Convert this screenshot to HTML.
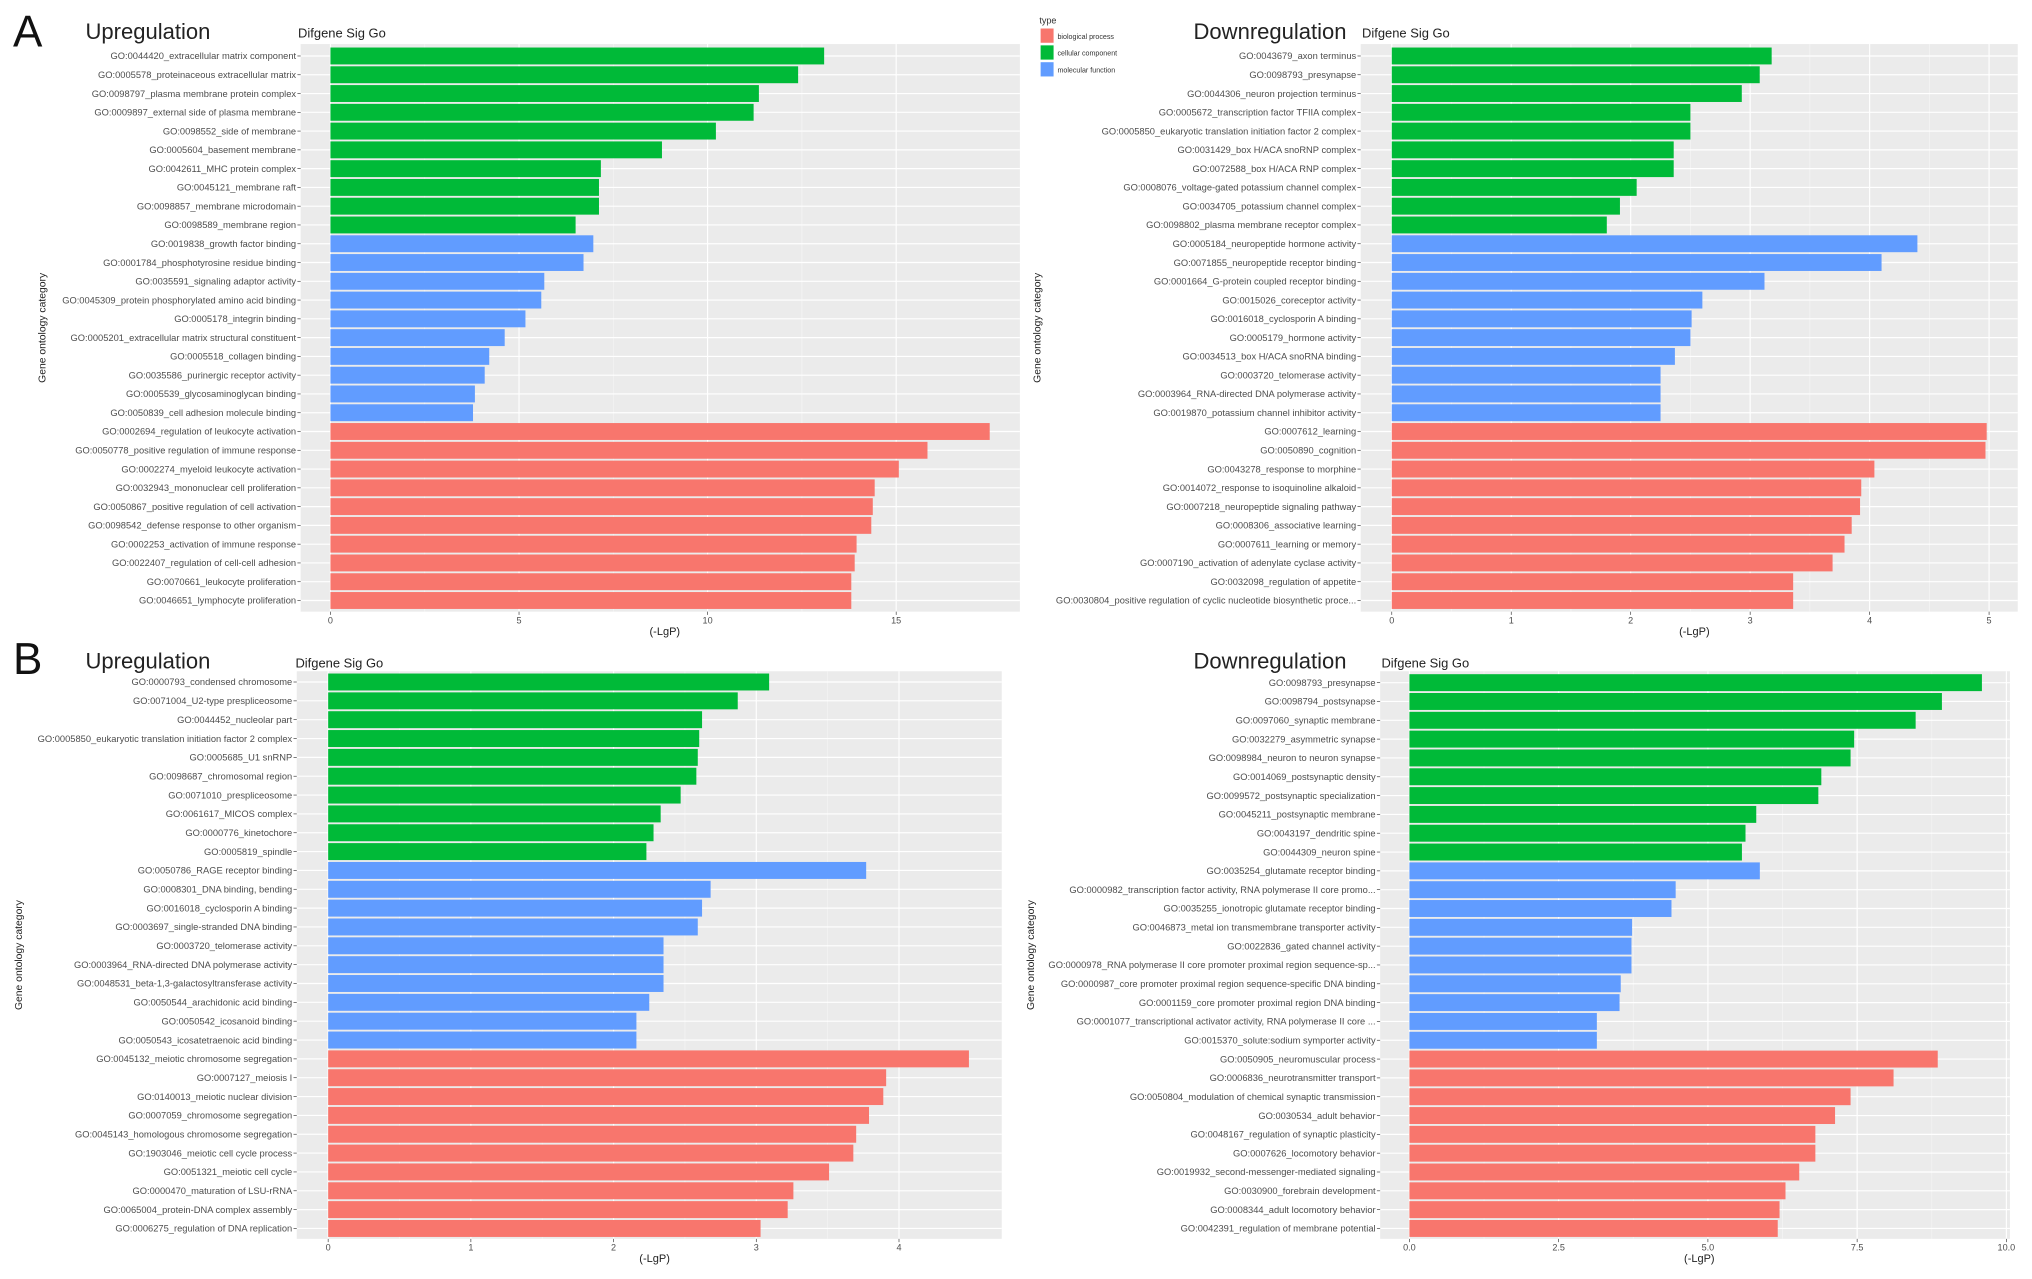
<!DOCTYPE html>
<html><head><meta charset="utf-8"><style>
html,body{margin:0;padding:0;background:#fff}
svg{display:block}
text{font-family:"Liberation Sans",sans-serif}
</style></head><body>
<svg id="fig" width="2032" height="1279" viewBox="0 0 1568 987" preserveAspectRatio="none" xmlns="http://www.w3.org/2000/svg">
<text x="10" y="36" font-size="34" fill="#111">A</text>
<text x="10" y="520" font-size="34" fill="#111">B</text>
<g>
<text x="802" y="18" font-size="7" fill="#333">type</text>
<rect x="803" y="22" width="10" height="11" fill="#F8766D"/>
<text x="816" y="30" font-size="5.5" fill="#333">biological process</text>
<rect x="803" y="35" width="10" height="11" fill="#00BA38"/>
<text x="816" y="43" font-size="5.5" fill="#333">cellular component</text>
<rect x="803" y="48" width="10" height="11" fill="#619CFF"/>
<text x="816" y="56" font-size="5.5" fill="#333">molecular function</text>
</g>
</svg>
<script>
const types = ["cc","cc","cc","cc","cc","cc","cc","cc","cc","cc","mf","mf","mf","mf","mf","mf","mf","mf","mf","mf","bp","bp","bp","bp","bp","bp","bp","bp","bp","bp"];

const aUpLabels = ["GO:0044420_extracellular matrix component","GO:0005578_proteinaceous extracellular matrix","GO:0098797_plasma membrane protein complex","GO:0009897_external side of plasma membrane","GO:0098552_side of membrane","GO:0005604_basement membrane","GO:0042611_MHC protein complex","GO:0045121_membrane raft","GO:0098857_membrane microdomain","GO:0098589_membrane region","GO:0019838_growth factor binding","GO:0001784_phosphotyrosine residue binding","GO:0035591_signaling adaptor activity","GO:0045309_protein phosphorylated amino acid binding","GO:0005178_integrin binding","GO:0005201_extracellular matrix structural constituent","GO:0005518_collagen binding","GO:0035586_purinergic receptor activity","GO:0005539_glycosaminoglycan binding","GO:0050839_cell adhesion molecule binding","GO:0002694_regulation of leukocyte activation","GO:0050778_positive regulation of immune response","GO:0002274_myeloid leukocyte activation","GO:0032943_mononuclear cell proliferation","GO:0050867_positive regulation of cell activation","GO:0098542_defense response to other organism","GO:0002253_activation of immune response","GO:0022407_regulation of cell-cell adhesion","GO:0070661_leukocyte proliferation","GO:0046651_lymphocyte proliferation"];
const aUpValues = [13.09,12.4,11.36,11.22,10.22,8.79,7.17,7.12,7.12,6.5,6.97,6.71,5.67,5.59,5.17,4.62,4.21,4.09,3.83,3.78,17.48,15.83,15.07,14.43,14.38,14.34,13.95,13.9,13.81,13.81];
const aUpTicks = [0,5,10,15];

const aDownLabels = ["GO:0043679_axon terminus","GO:0098793_presynapse","GO:0044306_neuron projection terminus","GO:0005672_transcription factor TFIIA complex","GO:0005850_eukaryotic translation initiation factor 2 complex","GO:0031429_box H/ACA snoRNP complex","GO:0072588_box H/ACA RNP complex","GO:0008076_voltage-gated potassium channel complex","GO:0034705_potassium channel complex","GO:0098802_plasma membrane receptor complex","GO:0005184_neuropeptide hormone activity","GO:0071855_neuropeptide receptor binding","GO:0001664_G-protein coupled receptor binding","GO:0015026_coreceptor activity","GO:0016018_cyclosporin A binding","GO:0005179_hormone activity","GO:0034513_box H/ACA snoRNA binding","GO:0003720_telomerase activity","GO:0003964_RNA-directed DNA polymerase activity","GO:0019870_potassium channel inhibitor activity","GO:0007612_learning","GO:0050890_cognition","GO:0043278_response to morphine","GO:0014072_response to isoquinoline alkaloid","GO:0007218_neuropeptide signaling pathway","GO:0008306_associative learning","GO:0007611_learning or memory","GO:0007190_activation of adenylate cyclase activity","GO:0032098_regulation of appetite","GO:0030804_positive regulation of cyclic nucleotide biosynthetic proce..."];
const aDownValues = [3.18,3.08,2.93,2.5,2.5,2.36,2.36,2.05,1.91,1.8,4.4,4.1,3.12,2.6,2.51,2.5,2.37,2.25,2.25,2.25,4.98,4.97,4.04,3.93,3.92,3.85,3.79,3.69,3.36,3.36];
const aDownTicks = [0,1,2,3,4,5];

const bUpLabels = ["GO:0000793_condensed chromosome","GO:0071004_U2-type prespliceosome","GO:0044452_nucleolar part","GO:0005850_eukaryotic translation initiation factor 2 complex","GO:0005685_U1 snRNP","GO:0098687_chromosomal region","GO:0071010_prespliceosome","GO:0061617_MICOS complex","GO:0000776_kinetochore","GO:0005819_spindle","GO:0050786_RAGE receptor binding","GO:0008301_DNA binding, bending","GO:0016018_cyclosporin A binding","GO:0003697_single-stranded DNA binding","GO:0003720_telomerase activity","GO:0003964_RNA-directed DNA polymerase activity","GO:0048531_beta-1,3-galactosyltransferase activity","GO:0050544_arachidonic acid binding","GO:0050542_icosanoid binding","GO:0050543_icosatetraenoic acid binding","GO:0045132_meiotic chromosome segregation","GO:0007127_meiosis I","GO:0140013_meiotic nuclear division","GO:0007059_chromosome segregation","GO:0045143_homologous chromosome segregation","GO:1903046_meiotic cell cycle process","GO:0051321_meiotic cell cycle","GO:0000470_maturation of LSU-rRNA","GO:0065004_protein-DNA complex assembly","GO:0006275_regulation of DNA replication"];
const bUpValues = [3.09,2.87,2.62,2.6,2.59,2.58,2.47,2.33,2.28,2.23,3.77,2.68,2.62,2.59,2.35,2.35,2.35,2.25,2.16,2.16,4.49,3.91,3.89,3.79,3.7,3.68,3.51,3.26,3.22,3.03];
const bUpTicks = [0,1,2,3,4];

const bDownLabels = ["GO:0098793_presynapse","GO:0098794_postsynapse","GO:0097060_synaptic membrane","GO:0032279_asymmetric synapse","GO:0098984_neuron to neuron synapse","GO:0014069_postsynaptic density","GO:0099572_postsynaptic specialization","GO:0045211_postsynaptic membrane","GO:0043197_dendritic spine","GO:0044309_neuron spine","GO:0035254_glutamate receptor binding","GO:0000982_transcription factor activity, RNA polymerase II core promo...","GO:0035255_ionotropic glutamate receptor binding","GO:0046873_metal ion transmembrane transporter activity","GO:0022836_gated channel activity","GO:0000978_RNA polymerase II core promoter proximal region sequence-sp...","GO:0000987_core promoter proximal region sequence-specific DNA binding","GO:0001159_core promoter proximal region DNA binding","GO:0001077_transcriptional activator activity, RNA polymerase II core ...","GO:0015370_solute:sodium symporter activity","GO:0050905_neuromuscular process","GO:0006836_neurotransmitter transport","GO:0050804_modulation of chemical synaptic transmission","GO:0030534_adult behavior","GO:0048167_regulation of synaptic plasticity","GO:0007626_locomotory behavior","GO:0019932_second-messenger-mediated signaling","GO:0030900_forebrain development","GO:0008344_adult locomotory behavior","GO:0042391_regulation of membrane potential"];
const bDownValues = [9.59,8.92,8.48,7.45,7.39,6.9,6.85,5.81,5.63,5.57,5.87,4.46,4.39,3.73,3.72,3.72,3.54,3.52,3.14,3.14,8.85,8.11,7.39,7.13,6.8,6.8,6.53,6.3,6.2,6.17];
const bDownTicks = ["0.0","2.5","5.0","7.5","10.0"];

const colors = {cc:"#00BA38", mf:"#619CFF", bp:"#F8766D"};
const NS = "http://www.w3.org/2000/svg";
const svg = document.getElementById("fig");
function mk(tag, attrs, parent){
  const e = document.createElementNS(NS, tag);
  for (const k in attrs) e.setAttribute(k, attrs[k]);
  parent.appendChild(e);
  return e;
}
function panel(id, labels, values, ticks, L){
  const g = mk("g", {}, svg);
  
  
  const xs = v => L.bx0 + (v - L.dmin) / (L.dmax - L.dmin) * (L.bx1 - L.bx0);
  const step = (L.lastRow - L.firstRow) / (labels.length - 1);
  const ys = i => L.firstRow + i * step;
  const bg = mk("rect", {x:L.bx0, y:L.by0, width:L.bx1-L.bx0, height:L.by1-L.by0, fill:"#EBEBEB"}, g);
  
  
  // minor grid
  for (let k = 0; k < ticks.length - 1; k++){
    const a = parseFloat(ticks[k]), b = parseFloat(ticks[k+1]);
    const mx = xs((a+b)/2);
    const ml = mk("line", {x1:mx, x2:mx, y1:L.by0, y2:L.by1, stroke:"#F5F5F5", "stroke-width":0.5}, g);
    
    
  }
  ticks.forEach(t => {
    const x = xs(parseFloat(t));
    const gl = mk("line", {x1:x, x2:x, y1:L.by0, y2:L.by1, stroke:"#fff", "stroke-width":0.9}, g);
    
    
    const tk = mk("line", {x1:x, x2:x, y1:L.by1, y2:L.by1+2.5, stroke:"#333", "stroke-width":0.5}, g);
    
    
    const tl = mk("text", {x:x, y:L.by1+9, "font-size":7, fill:"#4d4d4d", "text-anchor":"middle"}, g);
    
    
    tl.textContent = t;
  });
  labels.forEach((lab, i) => {
    const y = ys(i);
    const hl = mk("line", {x1:L.bx0, x2:L.bx1, y1:y, y2:y, stroke:"#fff", "stroke-width":0.9}, g);
    
    
    const bh = step * 0.9;
    const r = mk("rect", {x:xs(0), y:y-bh/2, width:Math.max(0, xs(values[i]) - xs(0)), height:bh, fill:colors[types[i]]}, g);
    
    
    const tk = mk("line", {x1:L.bx0-2.5, x2:L.bx0, y1:y, y2:y, stroke:"#333", "stroke-width":0.5}, g);
    
    
    const tl = mk("text", {x:L.bx0-3.5, y:y+2.5, "font-size":7.2, fill:"#4d4d4d", "text-anchor":"end"}, g);
    
    
    tl.textContent = lab;
  });
  const xt = mk("text", {x:(xs(0)+L.bx1)/2 - 8, y:L.by1+18, "font-size":8.5, fill:"#222", "text-anchor":"middle"}, g);
  
  
  xt.textContent = "(-LgP)";
  const yt = mk("text", {x:0, y:0, "font-size":8, fill:"#222", "text-anchor":"middle", transform:"translate("+L.ytx+","+((L.by0+L.by1)/2)+") rotate(-90)"}, g);
  
  
  yt.textContent = "Gene ontology category";
  const t1 = mk("text", {x:L.tx, y:L.ty, "font-size":17, fill:"#222"}, g);
  
  
  t1.textContent = L.title;
  const t2 = mk("text", {x:L.sx, y:L.ty-1, "font-size":10, fill:"#222"}, g);
  
  
  t2.textContent = "Difgene Sig Go";
}
panel("a-up", aUpLabels, aUpValues, aUpTicks, {bx0:232,bx1:787,by0:34,by1:472,dmin:-0.79,dmax:18.28,firstRow:43.2,lastRow:463.4,ytx:35,tx:66,ty:30,sx:230,title:"Upregulation"});
panel("a-down", aDownLabels, aDownValues, aDownTicks, {bx0:1050,bx1:1557,by0:34,by1:472,dmin:-0.26,dmax:5.24,firstRow:43.2,lastRow:463.4,ytx:803,tx:921,ty:30,sx:1051,title:"Downregulation"});
panel("b-up", bUpLabels, bUpValues, bUpTicks, {bx0:229,bx1:773,by0:518,by1:956,dmin:-0.22,dmax:4.72,firstRow:526.3,lastRow:948,ytx:17,tx:66,ty:516,sx:228,title:"Upregulation"});
panel("b-down", bDownLabels, bDownValues, bDownTicks, {bx0:1065,bx1:1551,by0:518,by1:956,dmin:-0.49,dmax:10.06,firstRow:526.8,lastRow:948,ytx:798,tx:921,ty:516,sx:1066,title:"Downregulation"});
</script>
</body></html>
